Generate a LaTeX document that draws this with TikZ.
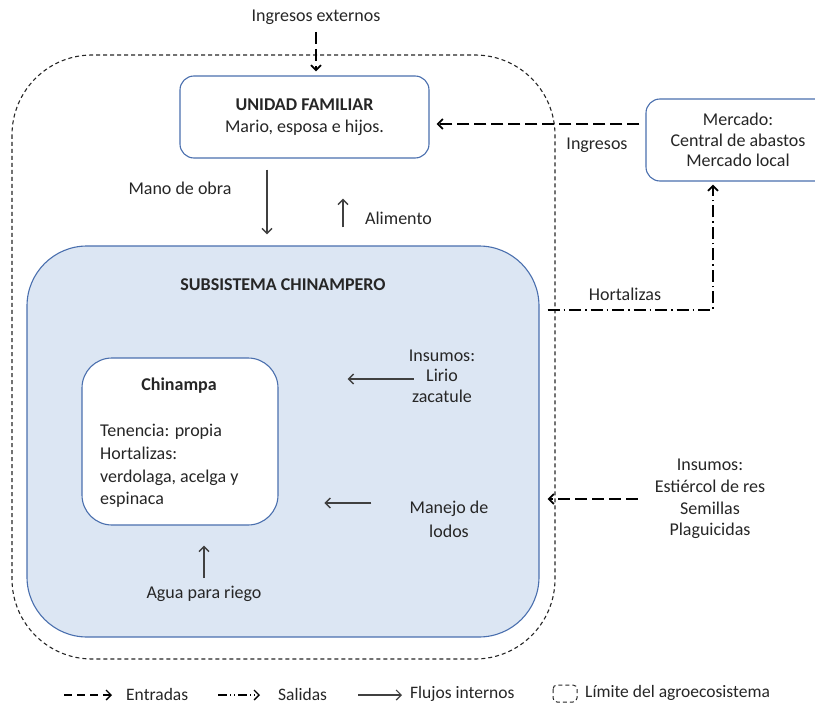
\documentclass[tikz,border=0pt]{standalone}
\usepackage{fontspec}
\setmainfont{Carlito}
\usetikzlibrary{arrows.meta}
\definecolor{boxblue}{HTML}{4A6FAE}
\definecolor{fillblue}{HTML}{DCE6F3}
\definecolor{flowgray}{HTML}{404040}
\definecolor{ink}{HTML}{262626}
\begin{document}
\begin{tikzpicture}[x=1pt,y=-1pt,
  font=\fontsize{18}{22}\selectfont, text=ink,
  box/.style={draw=boxblue, line width=1.1pt, rounded corners=14pt, align=center, inner sep=0pt},
  lbl/.style={align=center, inner sep=0pt},
  tip/.style={-{Straight Barb[length=5pt,width=10pt]}},
  inflow/.style={tip, draw=black, line width=1.8pt, dash pattern=on 12pt off 5pt},
  outflow/.style={tip, draw=black, line width=1.8pt, dash pattern=on 12pt off 4pt on 1.5pt off 4pt},
  intflow/.style={tip, draw=flowgray, line width=1.4pt},
  limit/.style={draw=black!85, line width=1.1pt, dash pattern=on 4pt off 3pt}
]
\useasboundingbox (0,0) rectangle (815,706);

% agroecosystem boundary
\draw[limit, rounded corners=80pt] (12,55) rectangle (555,659);

% boxes
\node[box, fill=fillblue, rounded corners=60pt, minimum width=512pt, minimum height=391pt] (sub) at (283,441.5) {};
\node[lbl, font=\fontsize{18}{22}\selectfont\bfseries] (subtitle) at (283,285) {SUBSISTEMA CHINAMPERO};

\node[box, fill=white, minimum width=249pt, minimum height=82pt] (unidad) at (304.5,117)
  {\textbf{UNIDAD FAMILIAR}\\Mario, esposa e hijos.};

\node[box, fill=white, minimum width=184pt, minimum height=82pt, font=\fontsize{18}{20.5}\selectfont] (mercado) at (738,140)
  {Mercado:\\Central de abastos\\Mercado local};

\node[box, fill=white, rounded corners=30pt, minimum width=196pt, minimum height=167pt] (chinampa) at (180,441.5) {};
\node[lbl, font=\fontsize{18}{22}\selectfont\bfseries] (chtitle) at (179,386) {Chinampa};
\node[lbl, align=left, anchor=west, font=\fontsize{18}{22.7}\selectfont] (chtext) at (100,466)
  {Tenencia: propia\\Hortalizas:\\verdolaga, acelga y\\espinaca};

% labels
\node[lbl] (ingext) at (316,17) {Ingresos externos};
\node[lbl] (ingresos) at (597,145) {Ingresos};
\node[lbl] (mano) at (180,188) {Mano de obra};
\node[lbl, anchor=west] (alimento) at (365,218) {Alimento};
\node[lbl] (hortalizas) at (625,294) {Hortalizas};
\node[lbl, font=\fontsize{18}{20.5}\selectfont] (lirio) at (442,376) {Insumos:\\Lirio\\zacatule};
\node[lbl, font=\fontsize{18}{24}\selectfont] (manejo) at (449,519) {Manejo de\\lodos};
\node[lbl] (agua) at (204,594) {Agua para riego};
\node[lbl, font=\fontsize{18}{21.7}\selectfont] (insext) at (710,499)
  {Insumos:\\Estiércol de res\\Semillas\\Plaguicidas};

% flows
\draw[inflow] ([yshift=-15pt]ingext.center) -- ([xshift=11.5pt,yshift=4pt]unidad.north);
\draw[inflow] ([xshift=-6pt,yshift=16pt]mercado.west) -- ([xshift=7pt,yshift=-7pt]unidad.east);
\draw[intflow] ([xshift=-37.5pt,yshift=-11pt]unidad.south) -- ([xshift=-16pt,yshift=11pt]sub.north);
\draw[intflow] ([xshift=60pt,yshift=18pt]sub.north) -- ([xshift=38.5pt,yshift=-40pt]unidad.south);
\draw[outflow] ([xshift=8pt,yshift=131.5pt]sub.east) -| ([xshift=-25pt,yshift=-3pt]mercado.south);
\draw[intflow] ([xshift=5pt,yshift=-3pt]lirio.west) -- ++(-66,0);
\draw[intflow] ([xshift=-38pt,yshift=16pt]manejo.west) -- ++(-47,0);
\draw[intflow] ([yshift=16pt]agua.center) -- ([xshift=24pt,yshift=-20pt]chinampa.south);
\draw[inflow] ([xshift=-17pt]insext.west) -- ([xshift=8pt,yshift=-57.5pt]sub.east);

% legend
\begin{scope}[font=\fontsize{17.5}{21}\selectfont]
  \coordinate (le1) at (64,695);
  \draw[inflow, line width=1.3pt, dash pattern=on 8pt off 5pt] (le1) -- ++(48,0);
  \node[lbl, anchor=west] (leg-in) at (126,694) {Entradas};
  \coordinate (le2) at (218,695);
  \draw[outflow, line width=1.3pt, dash pattern=on 9pt off 3pt on 1pt off 3pt on 1pt off 3pt] (le2) -- ++(42,0);
  \node[lbl, anchor=west] (leg-out) at (278,694) {Salidas};
  \coordinate (le3) at (358,695);
  \draw[intflow, line width=1.2pt] (le3) -- ++(44,0);
  \node[lbl, anchor=west] (leg-int) at (410,694) {Flujos internos};
  \draw[limit, line width=1pt, rounded corners=4pt] (553,685) rectangle (577,702);
  \node[lbl, anchor=west] (leg-lim) at (585,693) {Límite del agroecosistema};
\end{scope}
\end{tikzpicture}
\end{document}
